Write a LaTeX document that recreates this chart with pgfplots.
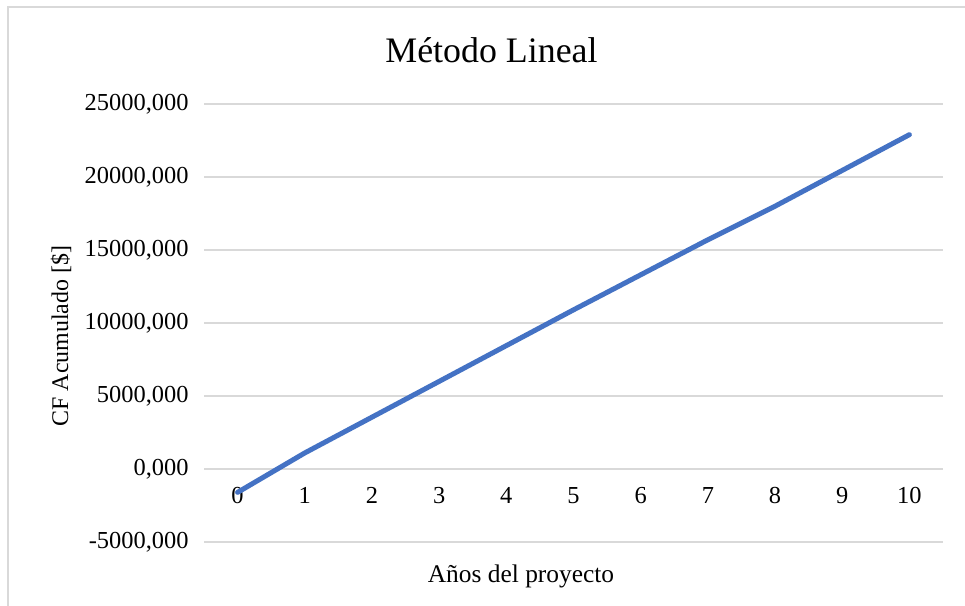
\documentclass[border=0pt]{standalone}
\usepackage{fontspec}
\setmainfont{Liberation Serif}
\usepackage{pgfplots}
\pgfplotsset{compat=1.18}

\definecolor{serieblue}{HTML}{4472C4}
\definecolor{gridgray}{HTML}{D9D9D9}
\definecolor{textgray}{HTML}{000000}

\begin{document}
\begin{tikzpicture}
  \useasboundingbox (0bp,0bp) rectangle (965bp,606bp);
  \fill[white] (0bp,0bp) rectangle (965bp,606bp);
  % chart area border
  \draw[gridgray, line width=2bp] (7.5bp,0bp) -- (7.5bp,598.5bp) -- (965bp,598.5bp);

  \begin{axis}[
    at={(204bp,64bp)}, anchor=south west,
    scale only axis,
    width=739bp, height=438bp,
    xmin=-0.5, xmax=10.5,
    ymin=-5000, ymax=25000,
    xtick={0,...,10},
    ytick={-5000,0,5000,10000,15000,20000,25000},
    scaled y ticks=false,
    axis x line=middle,
    axis y line=left,
    axis line style={draw=none},
    major tick length=0pt,
    tick style={draw=none},
    ymajorgrids,
    grid style={draw=gridgray, line width=1.3bp},
    tick label style={font=\fontsize{24.5}{28}\selectfont, text=textgray},
    yticklabel style={anchor=east, xshift=-12bp},
    xticklabel style={anchor=north, yshift=-15bp},
    /pgf/number format/assume math mode=true,
    yticklabel={\pgfmathprintnumber[fixed, fixed zerofill, precision=3, use comma, 1000 sep={}]{\tick}},
    xticklabel={\pgfmathprintnumber[fixed, precision=0]{\tick}},
    clip=false,
  ]
    \addplot[serieblue, line width=5bp, line cap=round, line join=round, mark=none]
      coordinates {
        (0,-1600) (1,1100) (2,3550) (3,6000) (4,8450) (5,10900)
        (6,13300) (7,15700) (8,18000) (9,20450) (10,22900)
      };
  \end{axis}

  % titles
  \node[anchor=base, font=\fontsize{36}{42}\selectfont] at (491.5bp,543bp) {Método Lineal};
  \node[anchor=base, font=\fontsize{25.5}{30}\selectfont] at (521bp,24bp) {Años del proyecto};
  \node[rotate=90, font=\fontsize{24}{28}\selectfont] at (61bp,270bp) {CF Acumulado [\$]};
\end{tikzpicture}
\end{document}
